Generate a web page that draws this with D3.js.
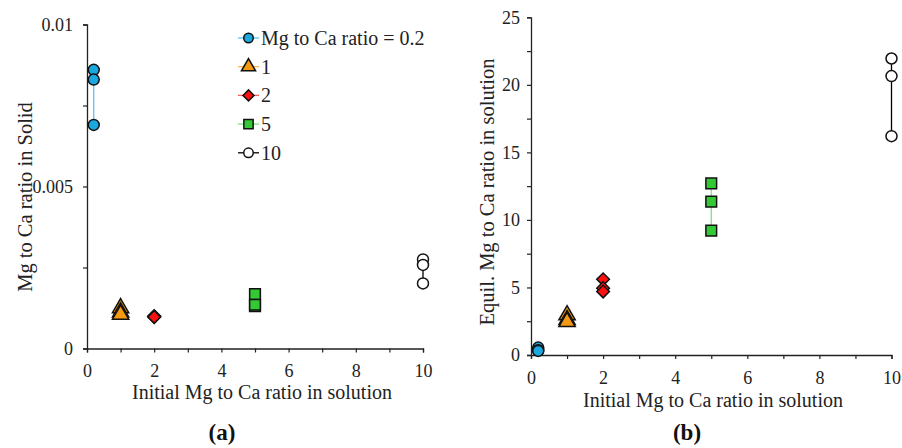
<!DOCTYPE html>
<html><head><meta charset="utf-8">
<script src="https://cdn.jsdelivr.net/npm/d3@7"></script>
<style>body{margin:0;background:#fff;} svg text{font-family:"Liberation Serif","Times New Roman",serif !important;}</style>
</head><body><svg id="c" width="902" height="448"></svg>
<script>
const seriesNames = ["Mg to Ca ratio = 0.2", "1", "2", "5", "10"];
const initialRatio = [0.2, 1, 2, 5, 10];
const solidRatio = [
  [0.0086, 0.0083, 0.0069],
  [0.00125, 0.00112, 0.00105],
  [0.00100, 0.00098, 0.00097],
  [0.00168, 0.00131, 0.00135],
  [0.00275, 0.00258, 0.00201]
];
const equilRatio = [
  [0.55, 0.35, 0.30],
  [2.95, 2.6, 2.45],
  [5.6, 4.95, 4.7],
  [12.7, 11.35, 9.2],
  [21.95, 20.65, 16.2]
];
const fillColors = ["#1ba8de", "#f39a12", "#ff1010", "#34c934", "#ffffff"];
const lineColors = ["#5cc4f0", "#ffb347", "#ff5a5a", "#85dd85", "#000000"];
const symbols = [d3.symbolCircle, d3.symbolTriangle, d3.symbolSquare, d3.symbolSquare, d3.symbolCircle];
const symRot = [0, 0, 45, 0, 0];
const symSizes = [95, 115, 80, 115, 95];
const xTicksMajor = [0, 2, 4, 6, 8, 10];
const yTicksA = [0, 0.0025, 0.005, 0.0075, 0.01];
const yLabelsA = {0: "0", 0.005: "0.005", 0.01: "0.01"};
const yTicksB = [0, 2.5, 5, 7.5, 10, 12.5, 15, 17.5, 20, 22.5, 25];
const yLabelsB = {0:"0",5:"5",10:"10",15:"15",20:"20",25:"25"};

const FF = "'Liberation Serif', 'Times New Roman', serif";
const svg = d3.select("#c");

function panel(opts) {
  const x = d3.scaleLinear().domain([0, 10]).range([opts.x0, opts.x1]);
  const y = d3.scaleLinear().domain(opts.ydom).range([opts.y0, opts.y1]);
  const g = svg.append("g");
  const xa = d3.axisBottom(x).tickValues(d3.range(0, 11, 1)).tickSize(4)
    .tickFormat(d => xTicksMajor.includes(d) ? d : "");
  const gx = g.append("g").attr("transform", `translate(0,${opts.y0})`).call(xa).attr("font-family", null);
  gx.select(".domain").attr("stroke", "#222").attr("stroke-width", 1.3);
  gx.selectAll(".tick line").attr("stroke", "#222").attr("stroke-width", 1.2);
  gx.selectAll(".tick text").style("font-family", FF).attr("font-size", 18).attr("fill", "#222")
    .attr("dy", 0).attr("y", opts.xtickBase);
  const ya = d3.axisLeft(y).tickValues(opts.yticks).tickSize(4)
    .tickFormat(d => opts.ylabels[d] !== undefined ? opts.ylabels[d] : "");
  const gy = g.append("g").attr("transform", `translate(${opts.x0},0)`).call(ya).attr("font-family", null);
  gy.select(".domain").attr("stroke", "#222").attr("stroke-width", 1.3);
  gy.selectAll(".tick line").attr("stroke", "#222").attr("stroke-width", 1.2);
  gy.selectAll(".tick text").style("font-family", FF).attr("font-size", 18).attr("fill", "#222").attr("x", opts.ytickX);
  opts.data.forEach((vals, i) => {
    const pts = vals.map(v => [x(initialRatio[i]), y(v)]);
    g.append("path").attr("d", d3.line()(pts)).attr("fill", "none")
      .attr("stroke", lineColors[i]).attr("stroke-width", 1.3);
    g.selectAll(null).data(vals).enter().append("path")
      .attr("d", d3.symbol().type(symbols[i]).size(symSizes[i]))
      .attr("transform", v => `translate(${x(initialRatio[i])},${y(v)}) rotate(${symRot[i]})`)
      .attr("fill", fillColors[i]).attr("stroke", "#111").attr("stroke-width", 1.5);
  });
  g.append("text").attr("x", opts.xtx).attr("y", opts.xty).attr("text-anchor", "middle")
    .attr("font-size", 20).attr("fill", "#222").text("Initial Mg to Ca ratio in solution");
  g.append("text").attr("transform", `translate(${opts.ytx},${opts.yty}) rotate(-90)`)
    .attr("text-anchor", "middle").attr("dy", "0.35em").attr("font-size", 20.5).attr("fill", "#222").text(opts.ytitle);
  g.append("text").attr("x", opts.lx).attr("y", 440).attr("text-anchor", "middle")
    .attr("font-size", 23).attr("fill", "#111").attr("font-weight", "bold")
    .text(`(${opts.letter})`);
  return {x, y, g};
}

panel({x0: 87, x1: 423, y0: 348.5, y1: 24.5, ydom: [0, 0.01], yticks: yTicksA, ylabels: yLabelsA,
  xtickBase: 28, ytickX: -14,
  data: solidRatio, xtx: 262, xty: 399, ytx: 25, yty: 197, ytitle: "Mg to Ca ratio in Solid", lx: 222, letter: "a"});
panel({x0: 531, x1: 891.5, y0: 355, y1: 17.3, ydom: [0, 25], yticks: yTicksB, ylabels: yLabelsB,
  xtickBase: 29, ytickX: -11,
  data: equilRatio, xtx: 713, xty: 407, ytx: 487, yty: 192, ytitle: "Equil. Mg to Ca ratio in solution", lx: 687, letter: "b"});

const leg = svg.append("g");
seriesNames.forEach((name, i) => {
  const ly = 38 + i * 28.7;
  leg.append("line").attr("x1", 238).attr("x2", 259).attr("y1", ly).attr("y2", ly)
    .attr("stroke", lineColors[i]).attr("stroke-width", 1.3);
  leg.append("path").attr("d", d3.symbol().type(symbols[i]).size(symSizes[i] * 0.75))
    .attr("transform", `translate(248.5,${ly}) rotate(${symRot[i]})`).attr("fill", fillColors[i])
    .attr("stroke", "#111").attr("stroke-width", 1.5);
  leg.append("text").attr("x", 261).attr("y", ly).attr("dy", "0.35em")
    .attr("font-size", 20).attr("fill", "#222").text(name);
});
</script></body></html>
